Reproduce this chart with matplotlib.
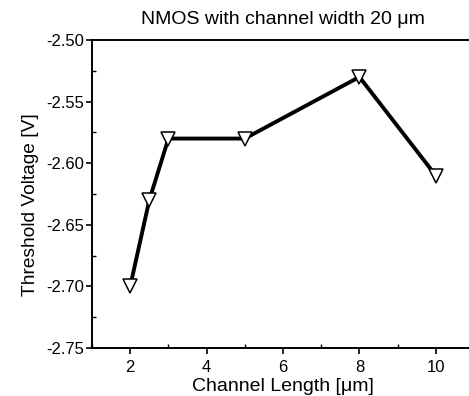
import matplotlib.pyplot as plt
from matplotlib.ticker import MultipleLocator

plt.rcParams["font.family"] = ["Liberation Sans", "DejaVu Sans"]

# data
channel_length = [2, 2.5, 3, 5, 8, 10]
threshold_v = [-2.70, -2.63, -2.58, -2.58, -2.53, -2.61]

W, H = 469, 396
fig = plt.figure(figsize=(W / 100, H / 100), dpi=100)
# axes runs past the right edge of the picture, like the scan
ax = fig.add_axes([92 / W, 1 - 348 / H, 382 / W, 308 / H])

ax.plot(channel_length, threshold_v, color="black", lw=2.8, zorder=2)
ax.plot(channel_length, threshold_v, ls="none", marker="v", ms=10.5,
        mfc="white", mec="black", mew=1.1, zorder=3)

ax.set_xlim(1, 11)
ax.set_ylim(-2.75, -2.50)
ax.xaxis.set_major_locator(MultipleLocator(2))
ax.xaxis.set_minor_locator(MultipleLocator(1))
ax.yaxis.set_major_locator(MultipleLocator(0.05))
ax.yaxis.set_minor_locator(MultipleLocator(0.025))
ax.yaxis.set_major_formatter(plt.FuncFormatter(lambda v, p: f"{v:.2f}"))

for s in ["left", "bottom", "top"]:
    ax.spines[s].set_linewidth(1.4)
ax.spines["right"].set_visible(False)
ax.tick_params(which="major", direction="out", length=4, width=1.2,
               labelsize=12, pad=2)
ax.tick_params(axis="x", which="major", pad=5)
ax.tick_params(which="minor", direction="in", length=3, width=1.0)

ax.set_xlabel("Channel Length [\u03bcm]", fontsize=14, labelpad=2)
ax.set_ylabel("Threshold Voltage [V]", fontsize=13.8)
ax.yaxis.set_label_coords(-0.14, (348 - 205) / 308)
fig.text(283 / W, 1 - 20 / H, "NMOS with channel width 20 \u03bcm",
         ha="center", va="center", fontsize=14)

fig.savefig("out.png", dpi=100)
